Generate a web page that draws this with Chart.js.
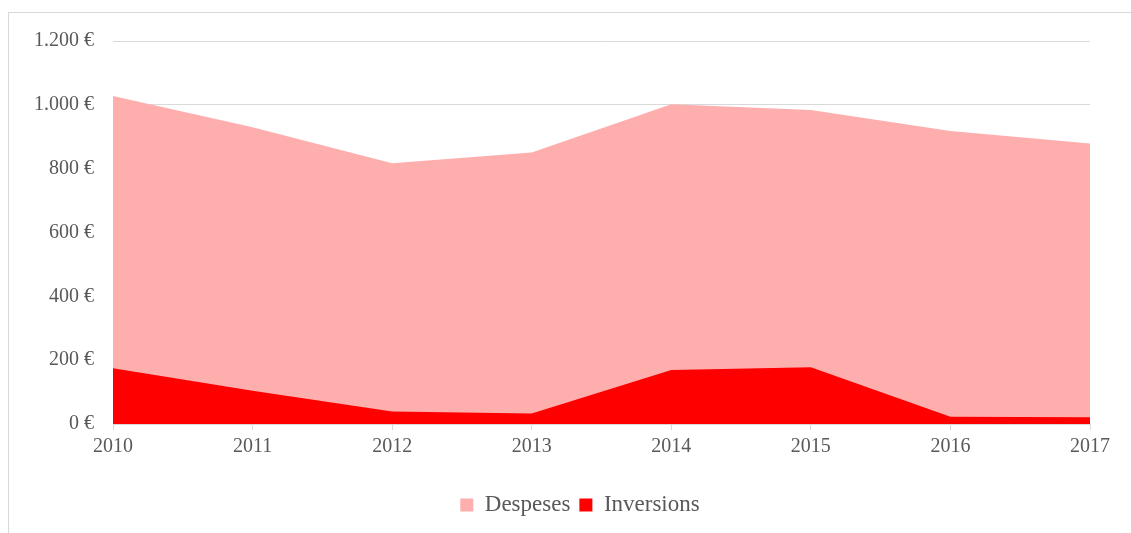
<!DOCTYPE html>
<html>
<head>
<meta charset="utf-8">
<script src="https://cdn.jsdelivr.net/npm/chart.js@4/dist/chart.umd.min.js"></script>
<style>
  html, body { margin: 0; padding: 0; background: #fff; overflow: hidden; }
  #frame { position: absolute; left: 8px; top: 12px; width: 1200px; height: 600px; border: 1px solid #d9d9d9; }
  #wrap { position: absolute; left: 0; top: 0; width: 1131px; height: 533px; }
</style>
</head>
<body>
<div id="frame"></div>
<div id="wrap"><canvas id="c" width="1131" height="533"></canvas></div>
<script>
const categories = ['2010', '2011', '2012', '2013', '2014', '2015', '2016', '2017'];
const despeses = [1028, 930, 817, 851, 1002, 984, 918, 879];
const inversions = [175, 104, 39, 33, 169, 178, 23, 21];
const seriesNames = ['Despeses', 'Inversions'];
const yMin = 0, yMax = 1200, yStep = 200;

const textColor = '#595959';
const gridColor = '#d9d9d9';
const fontFamily = '"Liberation Serif", "DejaVu Serif", serif';

function fmtEuro(v) {
  const s = String(Math.round(Number(v)));
  const grouped = s.length > 3 ? s.slice(0, s.length - 3) + '.' + s.slice(s.length - 3) : s;
  return grouped + ' €';
}

const legendShift = {
  id: 'legendShift',
  afterLayout(chart) {
    const lg = chart.legend;
    if (lg) { lg.left += 35; lg.right += 35; }
  }
};

new Chart(document.getElementById('c'), {
  type: 'line',
  data: {
    labels: categories,
    datasets: [
      { label: seriesNames[0], data: despeses, backgroundColor: '#FFAEAE', borderColor: '#FFAEAE',
        borderWidth: 0, pointRadius: 0, fill: 'origin', tension: 0, order: 1 },
      { label: seriesNames[1], data: inversions, backgroundColor: '#FF0000', borderColor: '#FF0000',
        borderWidth: 0, pointRadius: 0, fill: 'origin', tension: 0, order: 0 }
    ]
  },
  plugins: [legendShift],
  options: {
    responsive: false,
    animation: false,
    devicePixelRatio: 1,
    layout: { padding: { left: 0, right: 41, top: 41, bottom: 6.5 } },
    plugins: {
      tooltip: { enabled: false },
      legend: {
        position: 'bottom',
        labels: {
          color: textColor,
          font: { family: fontFamily, size: 23 },
          boxWidth: 13,
          boxHeight: 13,
          padding: 9,
          sort: (a, b) => a.datasetIndex - b.datasetIndex
        }
      }
    },
    scales: {
      x: {
        offset: false,
        grid: { drawOnChartArea: false, drawTicks: true, tickLength: 6, color: gridColor },
        border: { display: true, color: gridColor, width: 1 },
        ticks: { color: textColor, font: { family: fontFamily, size: 20 }, padding: 5, maxRotation: 0 },
        afterFit: (s) => { s.height = 60.5; }
      },
      y: {
        min: yMin,
        max: yMax,
        grid: { color: gridColor, drawTicks: false, tickLength: 0 },
        border: { display: false },
        ticks: { stepSize: yStep, color: textColor, font: { family: fontFamily, size: 20 }, padding: 19,
                 callback: (v) => fmtEuro(v) },
        afterFit: (s) => { s.width = 113; }
      }
    }
  }
});
</script>
</body>
</html>
